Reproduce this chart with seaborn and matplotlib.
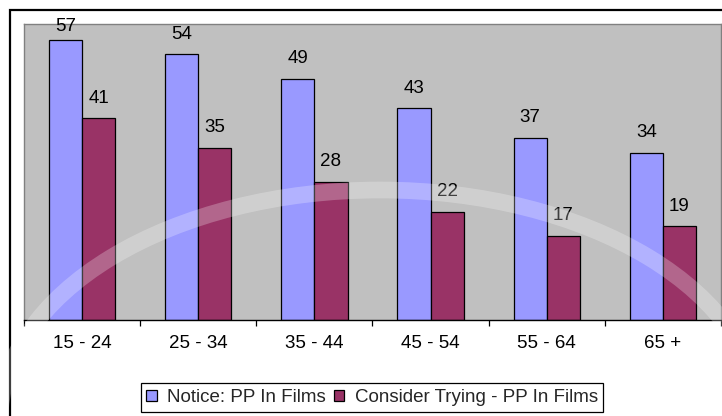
import matplotlib
matplotlib.use("Agg")
import matplotlib.pyplot as plt
from matplotlib.patches import Rectangle, Arc
from matplotlib.ticker import FixedLocator, NullFormatter
import seaborn as sns
import pandas as pd

# Survey results by age group (percent)
age_groups = ["15 - 24", "25 - 34", "35 - 44", "45 - 54", "55 - 64", "65 +"]
notice_pp = [57, 54, 49, 43, 37, 34]
consider_pp = [41, 35, 28, 22, 17, 19]
series_names = ["Notice: PP In Films", "Consider Trying - PP In Films"]

df = pd.DataFrame({
    "age": age_groups * 2,
    "pct": notice_pp + consider_pp,
    "series": [series_names[0]] * len(age_groups) + [series_names[1]] * len(age_groups),
})

sns.set_theme(style="white")
plt.rcParams["font.family"] = ["Liberation Sans", "DejaVu Sans"]

FS = 13.5
W, H = 722, 416
fig = plt.figure(figsize=(W / 100, H / 100), dpi=100)
fig.patch.set_facecolor("white")

# chart frame
fig.add_artist(Rectangle((10 / W, -0.05), 1.1, 1 - 10 / H + 0.05,
                         transform=fig.transFigure, fill=False,
                         edgecolor="black", linewidth=1.6, zorder=0))

ax = fig.add_axes([24 / W, 1 - 319.5 / H, 697 / W, 295.5 / H])
ax.set_facecolor("#c0c0c0")

palette = {series_names[0]: "#9999ff", series_names[1]: "#993366"}
sns.barplot(data=df, x="age", y="pct", hue="series", palette=palette,
            width=0.57, edgecolor="black", linewidth=0.9, saturation=1,
            ax=ax, legend=True)

ax.set_xlim(-0.5, len(age_groups) - 0.5)
ax.set_ylim(0, 60.2)
ax.set_yticks([])
ax.set_xlabel("")
ax.set_ylabel("")

# value labels
for cont in ax.containers:
    for rect in cont:
        v = rect.get_height()
        x = rect.get_x() + rect.get_width() / 2
        y = min(v + 4.1, 59.7)
        ax.text(x, y, f"{v:g}", ha="center", va="center", fontsize=FS,
                color="black", clip_on=False)

# category ticks at boundaries, labels at centers
ax.xaxis.set_major_locator(FixedLocator([i - 0.5 for i in range(len(age_groups) + 1)]))
ax.xaxis.set_major_formatter(NullFormatter())
ax.xaxis.set_minor_locator(FixedLocator(list(range(len(age_groups)))))
ax.set_xticklabels(age_groups, minor=True)
ax.tick_params(axis="x", which="major", length=4.5, width=0.9, color="black",
               direction="out", bottom=True)
ax.tick_params(axis="x", which="minor", length=0, pad=11, labelsize=FS,
               labelcolor="black")

for side in ["top", "left", "right"]:
    ax.spines[side].set_color("#808080")
    ax.spines[side].set_linewidth(1.0)
ax.spines["bottom"].set_color("black")
ax.spines["bottom"].set_linewidth(1.0)

handles, labels = ax.get_legend_handles_labels()
ax.legend_.remove()
leg = fig.legend(handles, labels, loc="center", ncol=2,
                 bbox_to_anchor=(372 / W, 1 - 397.5 / H),
                 frameon=True, fancybox=False, shadow=False,
                 edgecolor="black", facecolor="white", framealpha=1,
                 fontsize=FS, handlelength=0.55, handleheight=0.55,
                 handletextpad=0.55, columnspacing=0.45, borderpad=0.3,
                 borderaxespad=0)
leg.get_frame().set_linewidth(0.9)

# faint decorative arc across the chart
fig.add_artist(Arc((380 / W, 1 - 420 / H), 760 / W, 460 / H,
                   theta1=0, theta2=180, transform=fig.transFigure,
                   color="white", alpha=0.25, linewidth=12, zorder=10))

fig.savefig("out.png", dpi=100, facecolor="white")
